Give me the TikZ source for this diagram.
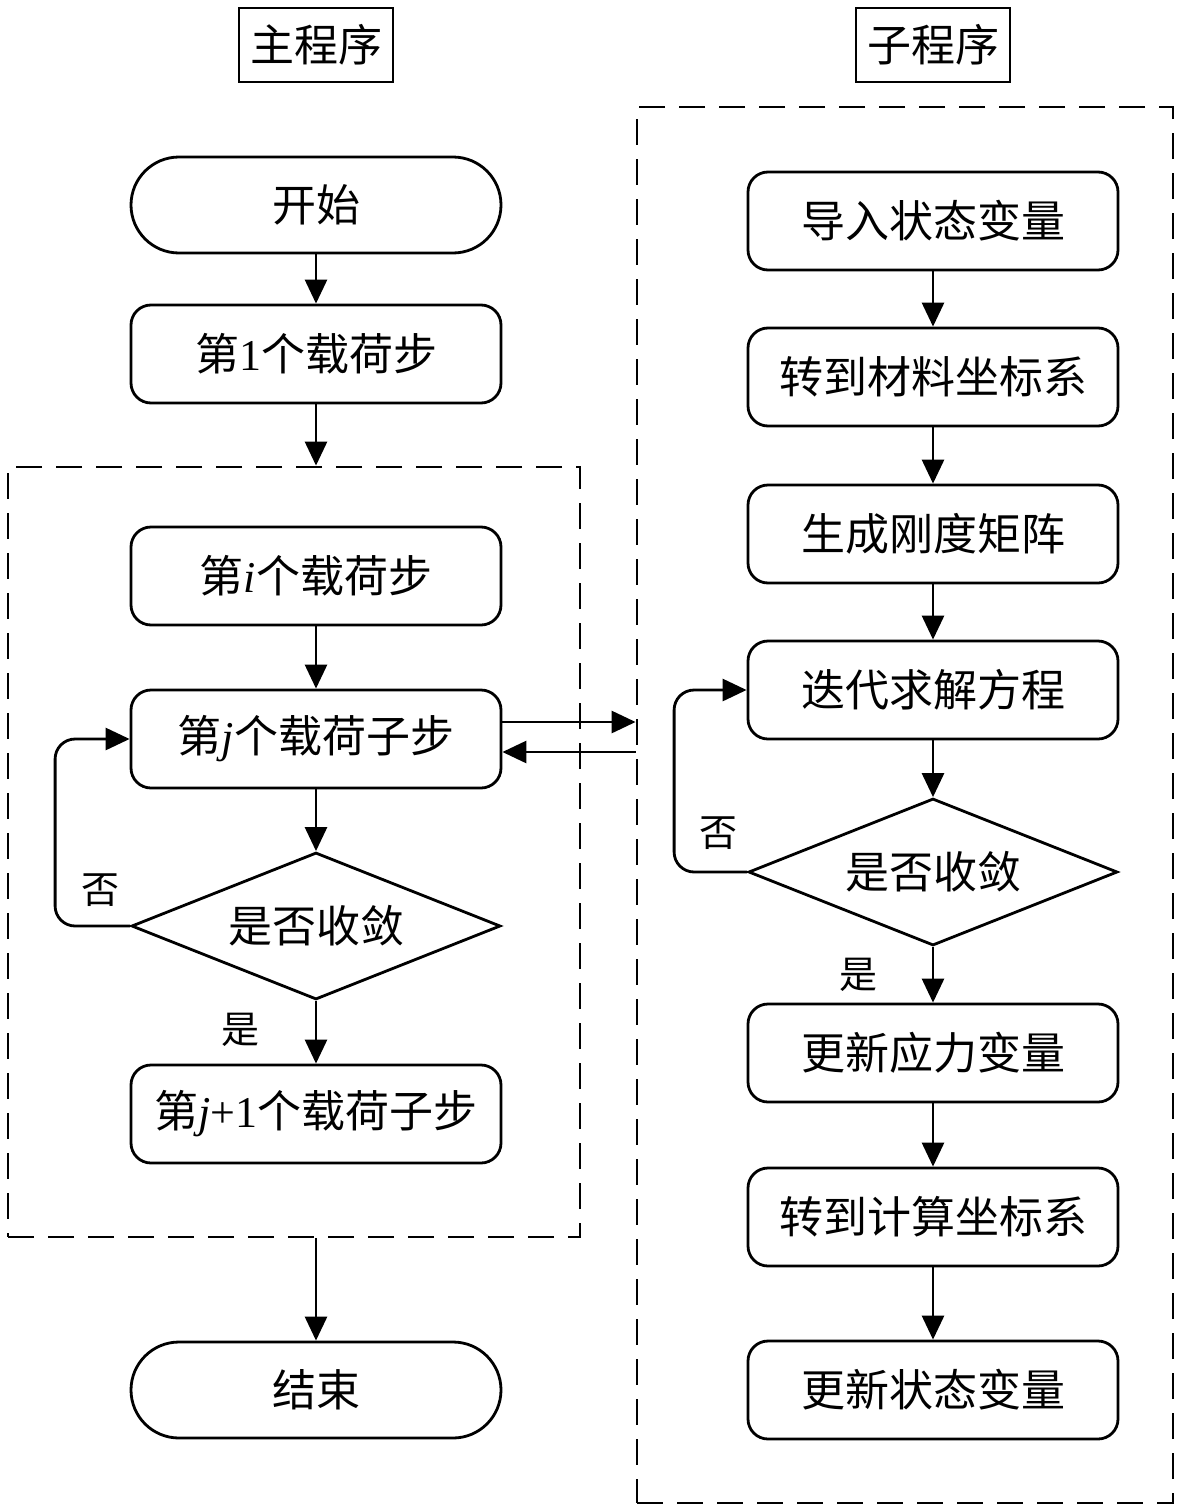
\documentclass[tikz,border=0pt]{standalone}
\usepackage{fontspec}
\setmainfont{Noto Sans CJK SC}
\newfontfamily\tnr{Liberation Serif}
\usetikzlibrary{
  arrows.meta,%
  shapes.geometric,%
  positioning
}
\tikzset{>={Triangle[length=24pt,width=22pt]}}
\tikzset{
  procbox/.style={draw, rectangle, rounded corners=20pt, minimum width=370pt,
    minimum height=98pt, inner sep=0pt},
  termbox/.style={draw, rectangle, rounded corners=48pt, minimum width=370pt,
    minimum height=96pt, inner sep=0pt},
  decide/.style={draw, diamond, aspect=2.5, minimum width=369pt,
    minimum height=147pt, inner sep=0pt},
  titlebox/.style={draw, rectangle, minimum width=154pt, minimum height=74pt},
  groupbox/.style={draw, rectangle, dash pattern=on 26pt off 14pt},
  tag/.style={font=\fontsize{38}{44}\selectfont}
}

\begin{document}
\begin{tikzpicture}[x=1pt, y=-1pt, line width=2.8pt, font=\fontsize{44}{52}\selectfont]
  \useasboundingbox (0,0) rectangle (1181,1512);
  % titles
  \node[titlebox] (maintitle) at (316,45) {主程序};
  \node[titlebox] (subtitle) at (933,45) {子程序};
  % main program
  \node[termbox] (start) at (316,205) {开始};
  \node[procbox] (step1) at (316,354) {第{\tnr 1}个载荷步};
  \node[groupbox, minimum width=572pt, minimum height=770pt] (loop) at (294,852) {};
  \node[procbox] (stepi) at (316,576) {第{\tnr\itshape i}个载荷步};
  \node[procbox] (subj) at (316,739) {第{\tnr\itshape j}个载荷子步};
  \node[decide] (conv1) at (316,926) {是否收敛};
  \node[procbox] (subnext) at (316,1114) {第{\tnr\itshape j}{\tnr +1}个载荷子步};
  \node[termbox] (finish) at (316,1390) {结束};
  \node[tag] (yes1) at (240,1030) {是};
  \node[tag] (no1) at (100,890) {否};
  % subroutine
  \node[groupbox, minimum width=536pt, minimum height=1396pt] (sub) at (905,805) {};
  \node[procbox] (import) at (933,221) {导入状态变量};
  \node[procbox] (tomat) at (933,377) {转到材料坐标系};
  \node[procbox] (stiff) at (933,534) {生成刚度矩阵};
  \node[procbox] (solve) at (933,690) {迭代求解方程};
  \node[decide] (conv2) at (933,872) {是否收敛};
  \node[procbox] (stress) at (933,1053) {更新应力变量};
  \node[procbox] (tocalc) at (933,1217) {转到计算坐标系};
  \node[procbox] (state) at (933,1390) {更新状态变量};
  \node[tag] (yes2) at (858,975) {是};
  \node[tag] (no2) at (718,833) {否};
  % connectors, main program
  \draw[->] (start) -- (step1);
  \draw[->] (step1) -- (step1 |- loop.north);
  \draw[->] (stepi) -- (subj);
  \draw[->] (subj) -- (conv1);
  \draw[->] (conv1) -- (subnext);
  \draw[->, rounded corners=20pt] (conv1.west) -- ++(-75,0) |- (subj.west);
  \draw[->] (loop.south -| finish.north) -- (finish);
  % connectors between the two
  \draw[->] ([yshift=17pt]subj.east) -- ([yshift=17pt]subj.east -| sub.west);
  \draw[->] ([yshift=-13pt]subj.east -| sub.west) -- ([yshift=-13pt]subj.east);
  % connectors, subroutine
  \draw[->] (import) -- (tomat);
  \draw[->] (tomat) -- (stiff);
  \draw[->] (stiff) -- (solve);
  \draw[->] (solve) -- (conv2);
  \draw[->] (conv2) -- (stress);
  \draw[->, rounded corners=20pt] (conv2.west) -- ++(-73,0) |- (solve.west);
  \draw[->] (stress) -- (tocalc);
  \draw[->] (tocalc) -- (state);
\end{tikzpicture}
\end{document}
